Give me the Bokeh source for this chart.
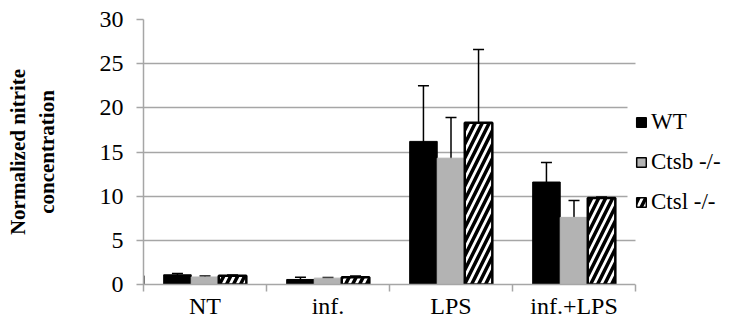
from bokeh.plotting import figure
from bokeh.models import (ColumnDataSource, FixedTicker, Whisker, TeeHead, Legend,
                          LegendItem, Range1d, BoxAnnotation)
from bokeh.embed import file_html
from bokeh.resources import INLINE

categories = ["NT", "inf.", "LPS", "inf.+LPS"]
series = ["WT", "Ctsb -/-", "Ctsl -/-"]
wt = [1.1, 0.57, 16.2, 11.6]
wt_err = [0.15, 0.25, 6.3, 2.2]
ctsb = [0.85, 0.72, 14.3, 7.6]
ctsb_err = [0.12, 0.08, 4.6, 1.9]
ctsl = [1.0, 0.83, 18.3, 9.8]
ctsl_err = [0.08, 0.12, 8.3, 0.1]
y_ticks = [0, 5, 10, 15, 20, 25, 30]

FONT = "Liberation Serif"
GRID = "#a6a6a6"

W, H = 732, 329
LEFT, TOP, BOTTOM = 143, 19, 45
CAT_PX = 123.0  # pixel width of one category slot
n = len(categories)
x_end = (W - LEFT) / CAT_PX  # frame spans to the right edge; legend lives there

p = figure(width=W, height=H, output_backend="svg", toolbar_location=None,
           x_range=Range1d(0, x_end), y_range=Range1d(0, 30),
           min_border_left=LEFT, min_border_right=0, min_border_top=TOP,
           min_border_bottom=BOTTOM)
p.outline_line_color = None
p.xgrid.grid_line_color = None
p.ygrid.grid_line_color = GRID
p.ygrid.grid_line_width = 1.5

# white masks: right of the category area, and behind the legend box
p.add_layout(BoxAnnotation(left=n, right=x_end + 1, fill_color="white",
                           fill_alpha=1.0, line_color=None))
p.add_layout(BoxAnnotation(left=n - 0.065, right=n + 0.01, bottom=6.5, top=22,
                           fill_color="white", fill_alpha=1.0, line_color=None))

offsets = [-0.224, 0.0, 0.224]
vals = [wt, ctsb, ctsl]
errs = [wt_err, ctsb_err, ctsl_err]
styles = [
    dict(fill_color="black", line_color="black", line_width=1),
    dict(fill_color="#b3b3b3", line_color="#b3b3b3", line_width=1),
    dict(fill_color="white", line_color="black", line_width=2.5,
         hatch_pattern="/", hatch_color="black", hatch_scale=14, hatch_weight=3.5),
]
legend_styles = [
    dict(fill_color="black", line_color="black", line_width=1.5),
    dict(fill_color="#b3b3b3", line_color="black", line_width=1.5),
    dict(fill_color="white", line_color="black", line_width=1.5,
         hatch_pattern="/", hatch_color="black", hatch_scale=14, hatch_weight=3.5),
]

items = []
for name, off, v, e, st, lst in zip(series, offsets, vals, errs, styles, legend_styles):
    xs = [i + 0.5 + off for i in range(n)]
    src = ColumnDataSource(dict(x=xs, top=v,
                                upper=[a + b for a, b in zip(v, e)],
                                lower=[a - b for a, b in zip(v, e)]))
    p.vbar(x="x", top="top", width=0.224, source=src, **st)
    w = Whisker(base="x", upper="upper", lower="lower", source=src,
                line_color="black", line_width=1.5,
                upper_head=TeeHead(size=11, line_color="black", line_width=1.5),
                lower_head=TeeHead(size=11, line_color="black", line_width=1.5))
    p.add_layout(w)
    # legend-only swatch (placed outside the visible range)
    dummy = p.vbar(x=[-1.0], top=[1.0], width=0.2, **lst)
    items.append(LegendItem(label=name, renderers=[dummy]))

legend = Legend(items=items, location=(492, 69), orientation="vertical",
                label_text_font=FONT, label_text_font_size="23px",
                label_text_color="black", label_height=27, label_standoff=4,
                glyph_width=12, glyph_height=12, spacing=13, padding=2,
                margin=0, border_line_color=None, background_fill_alpha=0.0)
p.add_layout(legend, "center")

# y axis
p.yaxis.ticker = FixedTicker(ticks=y_ticks, minor_ticks=[])
p.yaxis.axis_line_color = GRID
p.yaxis.axis_line_width = 1.5
p.yaxis.major_tick_line_color = GRID
p.yaxis.major_tick_line_width = 1.5
p.yaxis.major_tick_out = 7
p.yaxis.major_tick_in = 0
p.yaxis.minor_tick_line_color = None
p.yaxis.major_label_standoff = 13
p.yaxis.major_label_text_font = FONT
p.yaxis.major_label_text_font_size = "24px"
p.yaxis.major_label_text_color = "black"
p.yaxis.axis_label = "Normalized nitrite\nconcentration"
p.yaxis.axis_label_text_font = FONT
p.yaxis.axis_label_text_font_style = "bold"
p.yaxis.axis_label_text_font_size = "21px"
p.yaxis.axis_label_text_color = "black"
p.yaxis.axis_label_standoff = 38

# x axis: category labels at centres, ticks at boundaries
centers = [i + 0.5 for i in range(n)]
bounds = [float(i) for i in range(n + 1)]
p.xaxis.bounds = (0, n)
p.xaxis.ticker = FixedTicker(ticks=centers, minor_ticks=bounds)
p.xaxis.major_label_overrides = {c: lab for c, lab in zip(centers, categories)}
p.xaxis.axis_line_color = GRID
p.xaxis.axis_line_width = 1.5
p.xaxis.major_tick_line_color = None
p.xaxis.major_tick_out = 0
p.xaxis.major_tick_in = 0
p.xaxis.minor_tick_line_color = GRID
p.xaxis.minor_tick_line_width = 1.5
p.xaxis.minor_tick_out = 7
p.xaxis.minor_tick_in = 0
p.xaxis.major_label_standoff = 1
p.xaxis.major_label_text_font = FONT
p.xaxis.major_label_text_font_size = "24px"
p.xaxis.major_label_text_color = "black"

open("out.html", "w").write(file_html(p, INLINE))
